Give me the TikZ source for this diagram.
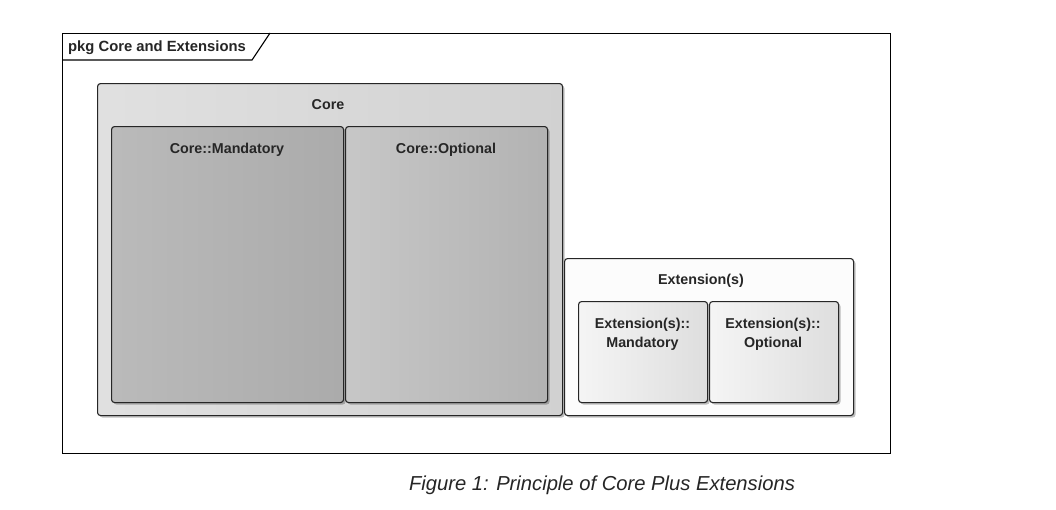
\documentclass[tikz,border=0pt]{standalone}
\usepackage{fontspec}
\setmainfont{Liberation Sans}
\usetikzlibrary{shadows}
\begin{document}
\begin{tikzpicture}[x=1pt,y=-1pt,
  lbl/.style={font=\fontsize{14.3}{19}\selectfont\bfseries, text=black!85, align=center, inner sep=0pt},
  pkgframe/.style={draw=black, line width=1.4pt, fill=white, minimum width=828pt, minimum height=420pt, anchor=north west, inner sep=0pt},
  umlbox/.style={draw=black!85, line width=1.1pt, rounded corners=3pt, anchor=north west, inner sep=0pt,
     drop shadow={shadow xshift=2pt, shadow yshift=-2pt, opacity=0.25, fill=black}},
  coreouter/.style={umlbox, left color=black!12, right color=black!18},
  coremand/.style={umlbox, left color=black!27, right color=black!33},
  coreopt/.style={umlbox, left color=black!22, right color=black!30},
  extouter/.style={umlbox, fill=black!1},
  extinner/.style={umlbox, left color=black!4, right color=black!13}
]
\useasboundingbox (0,0) rectangle (1056,509);
\fill[white] (0,0) rectangle (1056,509);

% package frame
\node[pkgframe] (pkg) at (62,33) {};
\coordinate (tabL) at (62,60);
\coordinate (tabB) at (252,60);
\coordinate (tabT) at (270,33);
\draw[line width=1.1pt, black] (tabL) -- (tabB) -- (tabT);
\node[lbl, anchor=west] (pkglbl) at (68,47.5) {\fontsize{14.8}{17}\selectfont pkg Core and Extensions};

% Core
\node[coreouter, minimum width=465pt, minimum height=332pt] (core) at (97,83) {};
\node[lbl] (coretitle) at (328,105) {Core};
\node[coremand, minimum width=232pt, minimum height=276pt] (cmand) at (111,126) {};
\node[lbl] (cmandlbl) at (227,149.5) {Core::Mandatory};
\node[coreopt, minimum width=202pt, minimum height=276pt] (copt) at (345,126) {};
\node[lbl] (coptlbl) at (446,149.5) {Core::Optional};

% Extensions
\node[extouter, minimum width=289pt, minimum height=157pt] (ext) at (564,258) {};
\node[lbl] (exttitle) at (701,280.5) {Extension(s)};
\node[extinner, minimum width=129pt, minimum height=101pt] (emand) at (578,301) {};
\node[lbl] (emandlbl) at (642.5,334) {Extension(s)::\\Mandatory};
\node[extinner, minimum width=129pt, minimum height=101pt] (eopt) at (709,301) {};
\node[lbl] (eoptlbl) at (773,334) {Extension(s)::\\Optional};

% caption
\node[font=\fontsize{20.2}{24}\selectfont\itshape, text=black!85, inner sep=0pt] (caption) at (602,485.5) {Figure 1: Principle of Core Plus Extensions};
\end{tikzpicture}
\end{document}
